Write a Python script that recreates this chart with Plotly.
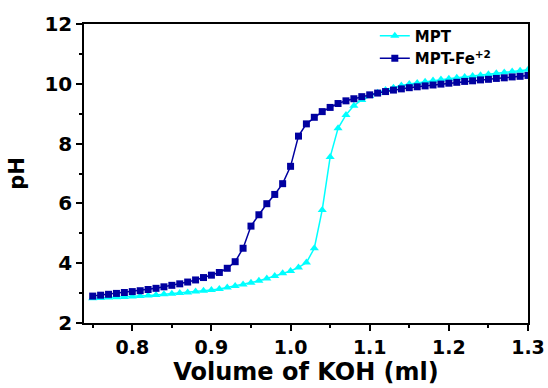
import plotly.graph_objects as go

volume = [round(0.75 + 0.01 * i, 2) for i in range(56)]

ph_mpt = [2.83, 2.84, 2.85, 2.86, 2.87, 2.89, 2.90, 2.92, 2.94, 2.96,
          2.98, 3.00, 3.02, 3.05, 3.08, 3.10, 3.14, 3.19, 3.24, 3.29,
          3.35, 3.41, 3.49, 3.57, 3.66, 3.74, 3.86, 4.02, 4.50, 5.78,
          7.55, 8.51, 8.96, 9.27, 9.46, 9.59, 9.70, 9.79, 9.87, 9.94,
          9.99, 10.03, 10.07, 10.11, 10.14, 10.17, 10.20, 10.23, 10.26, 10.29,
          10.32, 10.35, 10.38, 10.41, 10.44, 10.47]

ph_mpt_fe = [2.90, 2.93, 2.96, 2.99, 3.02, 3.05, 3.08, 3.12, 3.16, 3.21,
             3.26, 3.31, 3.37, 3.44, 3.52, 3.60, 3.69, 3.83, 4.05, 4.50,
             5.24, 5.62, 5.99, 6.30, 6.66, 7.24, 8.25, 8.66, 8.88, 9.07,
             9.21, 9.34, 9.43, 9.50, 9.57, 9.63, 9.69, 9.74, 9.79, 9.83,
             9.87, 9.90, 9.93, 9.96, 9.99, 10.02, 10.05, 10.08, 10.10, 10.13,
             10.15, 10.18, 10.20, 10.23, 10.25, 10.28]

x_ticks = [0.8, 0.9, 1.0, 1.1, 1.2, 1.3]
y_ticks = [2, 4, 6, 8, 10, 12]

FONT = "DejaVu Sans, Liberation Sans, Arial, sans-serif"
CYAN = "#00FFFF"
NAVY = "#0000A0"

fig = go.Figure()
fig.add_trace(go.Scatter(
    x=volume, y=ph_mpt, mode="lines+markers", name="<b>MPT</b>",
    line=dict(color=CYAN, width=1.5),
    marker=dict(symbol="triangle-up", size=8, color=CYAN),
))
fig.add_trace(go.Scatter(
    x=volume, y=ph_mpt_fe, mode="lines+markers", name="<b>MPT-Fe<sup>+2</sup></b>",
    line=dict(color=NAVY, width=1.5),
    marker=dict(symbol="square", size=7, color=NAVY),
))

fig.update_layout(
    width=548, height=388,
    margin=dict(l=84, r=20, t=24, b=65, autoexpand=False),
    paper_bgcolor="white", plot_bgcolor="white",
    font=dict(family=FONT, color="black"),
    showlegend=True,
    legend=dict(x=0.655, y=1.015, xanchor="left", yanchor="top",
                bgcolor="rgba(0,0,0,0)", font=dict(size=15, family=FONT),
                tracegroupgap=0),
)
fig.update_xaxes(
    range=[0.739, 1.3], tickvals=x_ticks, ticktext=[f"<b>{v:.1f}</b>" for v in x_ticks],
    ticks="outside", ticklen=6, tickwidth=1.5, tickcolor="black",
    minor=dict(ticks="outside", ticklen=3, tickwidth=1.5, tickcolor="black",
               tickvals=[0.75, 0.85, 0.95, 1.05, 1.15, 1.25]),
    showline=True, linecolor="black", linewidth=1.5, mirror=True,
    showgrid=False, zeroline=False, automargin=False,
    tickfont=dict(size=19, family=FONT),
    title=dict(text="<b>Volume of KOH (ml)</b>", font=dict(size=24, family=FONT), standoff=6),
)
fig.update_yaxes(
    range=[2, 12], tickvals=y_ticks, ticktext=[f"<b>{v}</b>" for v in y_ticks],
    ticks="outside", ticklen=6, tickwidth=1.5, tickcolor="black",
    minor=dict(ticks="outside", ticklen=3, tickwidth=1.5, tickcolor="black",
               tickvals=[3, 5, 7, 9, 11]),
    showline=True, linecolor="black", linewidth=1.5, mirror=True,
    showgrid=False, zeroline=False, automargin=False,
    tickfont=dict(size=20, family=FONT),
    title=dict(text="<b>pH</b>", font=dict(size=21, family=FONT), standoff=14),
)

fig.write_html("out.html")
